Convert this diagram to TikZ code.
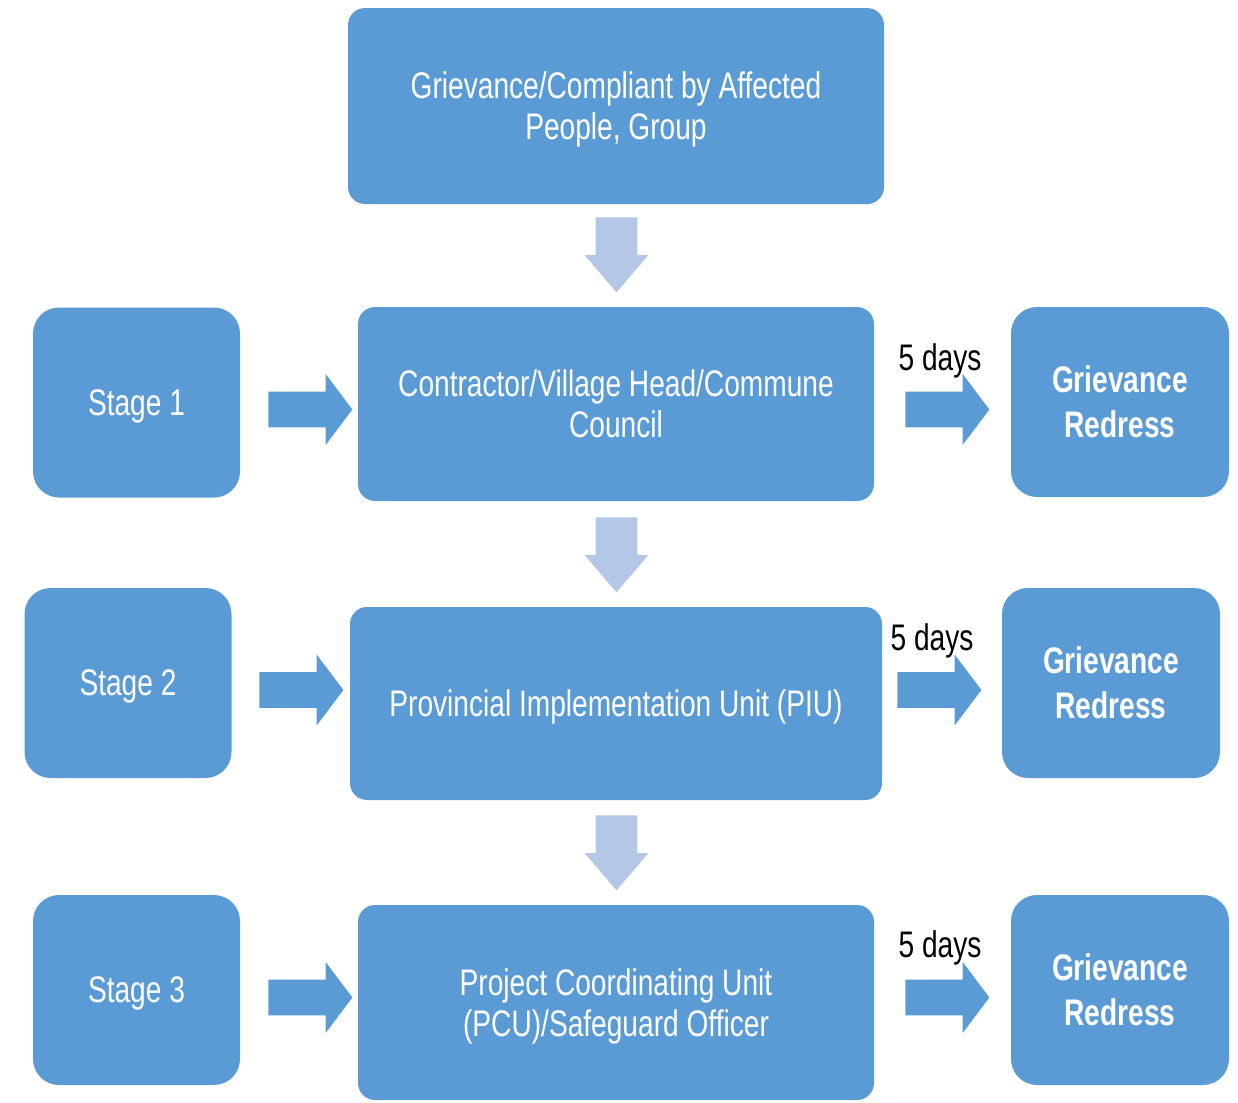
\documentclass[tikz,border=0pt]{standalone}
\usepackage{fontspec}
\setmainfont{Liberation Sans}[FakeStretch=0.76]
\usetikzlibrary{shapes.arrows}
\definecolor{boxblue}{HTML}{5B9BD5}
\definecolor{paleblue}{HTML}{B4C7E7}

\begin{document}
\begin{tikzpicture}[x=0.5pt,y=-0.5pt,
  every node/.style={font=\fontsize{18.5pt}{20.5pt}\selectfont},
  box/.style={fill=boxblue,text=white,align=center,rounded corners=8.5pt,inner sep=0pt,text depth=0pt},
  stagebox/.style={box,rounded corners=13pt,minimum width=103.5pt,minimum height=95pt},
  redress/.style={stagebox,minimum width=109pt,text depth=-3pt,font=\fontsize{18.5pt}{22.5pt}\selectfont\bfseries},
  rightarrow/.style={single arrow,fill=boxblue,inner sep=8.75pt,minimum height=42pt,anchor=tail,
    single arrow head extend=8.75pt,single arrow tip angle=106},
  downarrow/.style={single arrow,fill=paleblue,inner sep=10.25pt,minimum height=37.5pt,anchor=tail,
    single arrow head extend=5.5pt,single arrow tip angle=81,rotate=-90}]
\useasboundingbox (0,0) rectangle (1238,1103);

\node[box,minimum width=268pt,minimum height=98pt] at (616,106) (top)
  {Grievance/Compliant by Affected\\People, Group};

\node[box,minimum width=258pt,minimum height=97pt] at (616,404) (contractor)
  {Contractor/Village Head/Commune\\Council};
\node[box,minimum width=266pt,minimum height=96.5pt] at (616,703.5) (piu)
  {Provincial Implementation Unit (PIU)};
\node[box,minimum width=258pt,minimum height=97.5pt] at (616,1002.5) (pcu)
  {Project Coordinating Unit\\(PCU)/Safeguard Officer};

\node[stagebox] at (136.5,402.5) (stage1) {Stage 1};
\node[stagebox] at (128,683) (stage2) {Stage 2};
\node[stagebox] at (136.5,990) (stage3) {Stage 3};

\node[redress] at (1120,402) (redress1) {Grievance\\Redress};
\node[redress] at (1111,683) (redress2) {Grievance\\Redress};
\node[redress] at (1120,990) (redress3) {Grievance\\Redress};

\node[downarrow] at (616.5,217) (down1) {};
\node[downarrow] at (616.5,517) (down2) {};
\node[downarrow] at (616.5,815) (down3) {};

\node[rightarrow] at (268,409.5) (in1) {};
\node[rightarrow] at (259,690) (in2) {};
\node[rightarrow] at (268,997.5) (in3) {};

\node[rightarrow] at (905,409.5) (out1) {};
\node[rightarrow] at (897,690) (out2) {};
\node[rightarrow] at (905,997.5) (out3) {};

\node at (940,361) (days1) {5 days};
\node at (932,641) (days2) {5 days};
\node at (940,948) (days3) {5 days};
\end{tikzpicture}
\end{document}
